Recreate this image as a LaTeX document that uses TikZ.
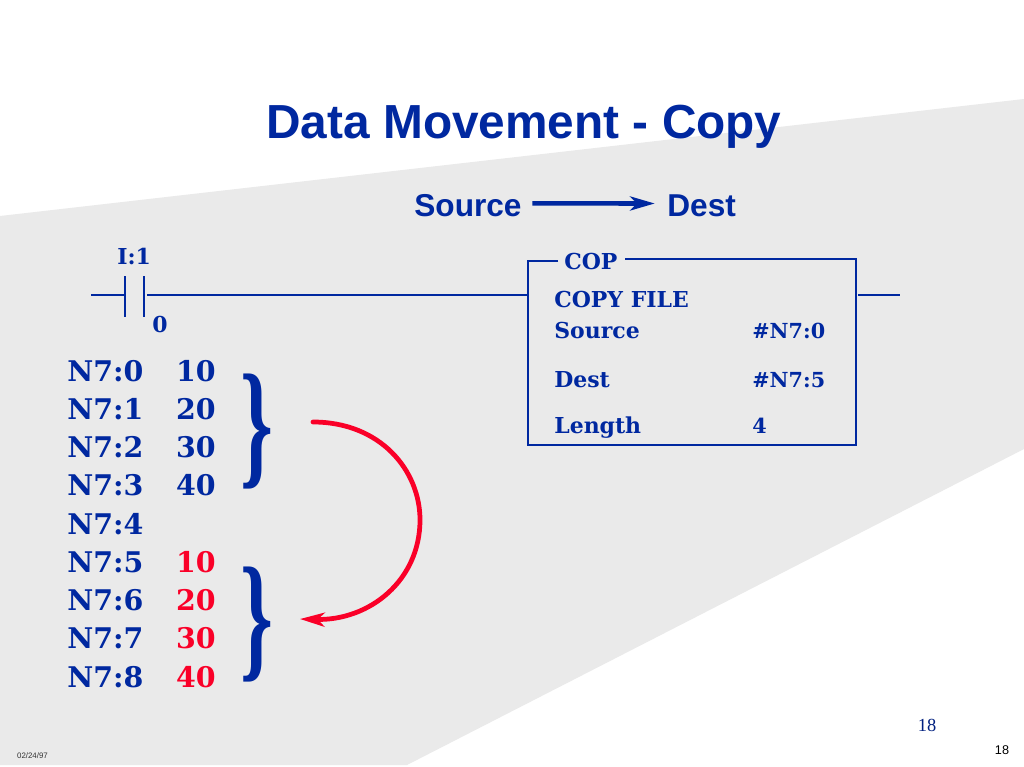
\documentclass[tikz,border=0pt]{standalone}
\usepackage{fontspec}
\setmainfont{DejaVu Serif}
\setsansfont{Liberation Sans}
\newfontfamily\timesfont{Liberation Serif}
\usetikzlibrary{arrows.meta}
\definecolor{plcblue}{RGB}{0,40,160}
\definecolor{plcred}{RGB}{250,0,40}
\definecolor{slidegrey}{RGB}{234,234,234}
\tikzset{
  heading/.style={font=\sffamily\bfseries\fontsize{27.2}{29}\selectfont, text=plcblue, inner sep=0pt},
  subhead/.style={font=\sffamily\bfseries\fontsize{18}{20}\selectfont, text=plcblue, inner sep=0pt},
  regtext/.style={font=\bfseries\fontsize{16.2}{18}\selectfont, text=plcblue, inner sep=0pt, anchor=base west},
  regval/.style={font=\bfseries\fontsize{16.2}{18}\selectfont, text=plcblue, inner sep=0pt, anchor=base east},
  boxtext/.style={font=\bfseries\fontsize{12.5}{14}\selectfont, text=plcblue, inner sep=0pt, anchor=base west},
  boxval/.style={font=\bfseries\fontsize{11.8}{14}\selectfont, text=plcblue, inner sep=0pt, anchor=base west},
  rung/.style={draw=plcblue, line width=1.4pt},
  brace/.style={font=\timesfont\bfseries\fontsize{72}{72}\selectfont, text=plcblue, inner sep=0pt, xscale=0.66, yscale=1.1}
}
\begin{document}
\begin{tikzpicture}[x=0.02cm,y=-0.02cm]
  \useasboundingbox (0,0) rectangle (1024,767);
  \fill[white] (0,0) rectangle (1024,767);
  \fill[slidegrey] (0,216) -- (1024,99) -- (1024,449) -- (407,765) -- (0,765) -- cycle;

  \node[heading, anchor=base] (title) at (524,138) {Data Movement - Copy};
  \node[subhead, anchor=base west] (src) at (414,216) {Source};
  \node[subhead, anchor=base west] (dst) at (667,216) {Dest};
  \draw[plcblue, line width=2.6pt, -{Stealth[length=14pt,width=8pt,inset=4pt]}, shorten <=6pt, shorten >=7pt] ([yshift=1pt]src.east) -- ([yshift=1pt]dst.west);

  % contact
  \coordinate (railL) at (91,295);
  \coordinate (railR) at (900,295);
  \coordinate (contactA) at (125,295);
  \coordinate (contactB) at (147,295);
  \coordinate (boxL) at (528,295);
  \coordinate (boxS) at (858,295);
  \draw[rung] (railL) -- (contactA);
  \draw[rung] (125,276) -- (125,317);
  \draw[rung] (144,276) -- (144,317);
  \draw[rung] (contactB) -- (boxL);
  \draw[rung] (boxS) -- (railR);
  \node[boxtext] (inlabel) at (117,264) {I:1};
  \node[boxtext] (bitlabel) at (152,332) {0};

  % instruction box
  \draw[rung] (558,261) -- (528,261) -- (528,445) -- (856,445) -- (856,259) -- (625,259);
  \node[boxtext] (cop) at (564,269) {COP};
  \node[boxtext] (copyfile) at (554,307) {COPY FILE};
  \node[boxtext] (srcl) at (554,338) {Source};
  \node[boxval] (srcv) at (752,338) {\#N7:0};
  \node[boxtext] (dstl) at (554,387) {Dest};
  \node[boxval] (dstv) at (752,387) {\#N7:5};
  \node[boxtext] (lenl) at (554,433) {Length};
  \node[boxval] (lenv) at (752,433) {4};

  % register table
  \foreach \n/\val/\col [count=\i from 0] in {0/10/plcblue,1/20/plcblue,2/30/plcblue,3/40/plcblue,4//plcblue,5/10/plcred,6/20/plcred,7/30/plcred,8/40/plcred}{
    \node[regtext] (reg\n) at (67,381+38.25*\i) {N7:\n};
    \node[regval, text=\col] (val\n) at (216,381+38.25*\i) {\val};
  }
  \node[brace] (braceA) at (257,432) {\}};
  \node[brace] (braceB) at (257,625) {\}};

  % move arrow
  \draw[plcred, line width=2.7pt, line cap=round, -{Stealth[length=14pt,width=8pt,inset=4pt]}] (313,422) .. controls (380,422) and (420,470) .. (420,520) .. controls (420,580) and (370,621) .. (300,619);

  \node[font=\timesfont\fontsize{10.5}{12}\selectfont, text=plcblue!80!black, inner sep=0pt] (pagenum) at (927,725) {18};
  \node[font=\sffamily\fontsize{4.5}{6}\selectfont, text=black!80, inner sep=0pt] (datestamp) at (32.5,756) {02/24/97};
  \node[font=\sffamily\fontsize{7.2}{8}\selectfont, text=black, inner sep=0pt] (slidenum) at (1002,750) {18};
\end{tikzpicture}
\end{document}
